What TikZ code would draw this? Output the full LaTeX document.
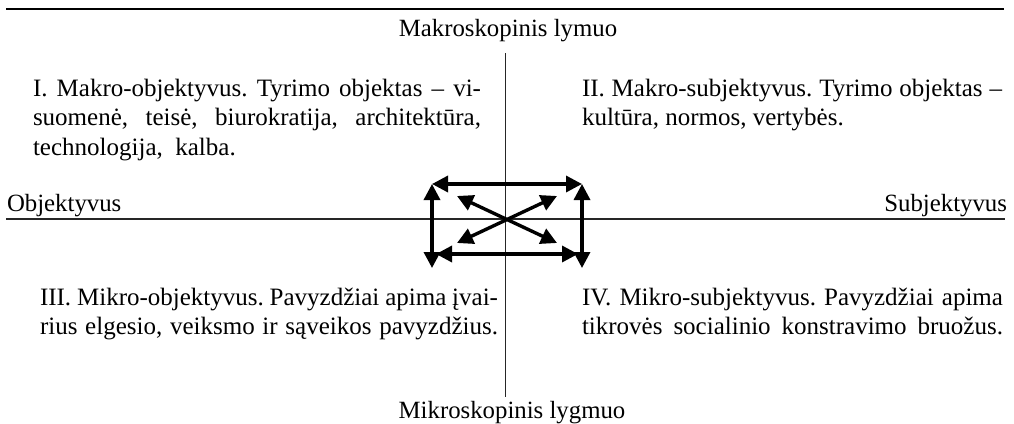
\documentclass[tikz,border=0pt]{standalone}
\usepackage{fontspec}
\setmainfont{Liberation Serif}
\usetikzlibrary{arrows.meta}
\begin{document}
\frenchspacing
\begin{tikzpicture}[x=1pt,y=-1pt,
  lbl/.style={inner sep=0pt,outer sep=0pt,font=\fontsize{24.8}{29.5}\selectfont},
  para/.style={inner sep=0pt,outer sep=0pt,font=\fontsize{25}{29.5}\selectfont,align=justify,anchor=north west},
  axis/.style={line width=1.3pt,draw=black!85},
  dbl/.style={line width=3.4pt,{Triangle[length=16pt,width=16pt]}-{Triangle[length=16pt,width=16pt]}}]
\useasboundingbox (0,0) rectangle (1014,423);
% top rule
\coordinate (r1) at (6,9);
\coordinate (r2) at (1004,9);
\draw[line width=2.2pt] (r1) -- (r2);
% axes
\coordinate (vt) at (505.5,53);
\coordinate (vb) at (505.5,397);
\coordinate (hl) at (6,219);
\coordinate (hr) at (1005,219);
\draw[axis] (vt) -- (vb);
\draw[axis] (hl) -- (hr);
% axis labels
\node[lbl,anchor=base] (top) at (508,36) {Makroskopinis lymuo};
\node[lbl,anchor=base] (bot) at (512,418) {Mikroskopinis lygmuo};
\node[lbl,anchor=base west] (obj) at (7,211) {Objektyvus};
\node[lbl,anchor=base east] (subj) at (1007,211) {Subjektyvus};
% quadrant texts
\node[para,text width=448pt] (q1) at (33,79) {I. Makro-objektyvus. Tyrimo objektas – vi-\linebreak suomenė, teisė, biurokratija, architektūra,\linebreak technologija,\ \ kalba.};
\node[para,text width=420pt] (q2) at (582,79) {II. Makro-subjektyvus. Tyrimo objektas –\linebreak kultūra, normos, vertybės.};
\node[para,text width=458pt] (q3) at (40,288) {III. Mikro-objektyvus. Pavyzdžiai apima įvai-\linebreak \makebox[458pt][s]{rius elgesio, veiksmo ir sąveikos pavyzdžius.}};
\node[para,text width=421pt] (q4) at (582,288) {IV. Mikro-subjektyvus. Pavyzdžiai apima\linebreak \makebox[421pt][s]{tikrovės socialinio konstravimo bruožus.}};
% arrows
\coordinate (tl) at (432,184);
\coordinate (tr) at (582,184);
\coordinate (bl) at (432,268);
\coordinate (br) at (582,268);
\coordinate (hbl) at (436,254);
\coordinate (hbr) at (578,254);
\coordinate (d1) at (457,196);
\coordinate (d2) at (557,243);
\coordinate (d3) at (457,243);
\coordinate (d4) at (557,196);
\draw[dbl] (tl) -- (tr);
\draw[dbl] (hbl) -- (hbr);
\draw[dbl] (tl) -- (bl);
\draw[dbl] (tr) -- (br);
\draw[dbl] (d1) -- (d2);
\draw[dbl] (d3) -- (d4);
\end{tikzpicture}
\end{document}
